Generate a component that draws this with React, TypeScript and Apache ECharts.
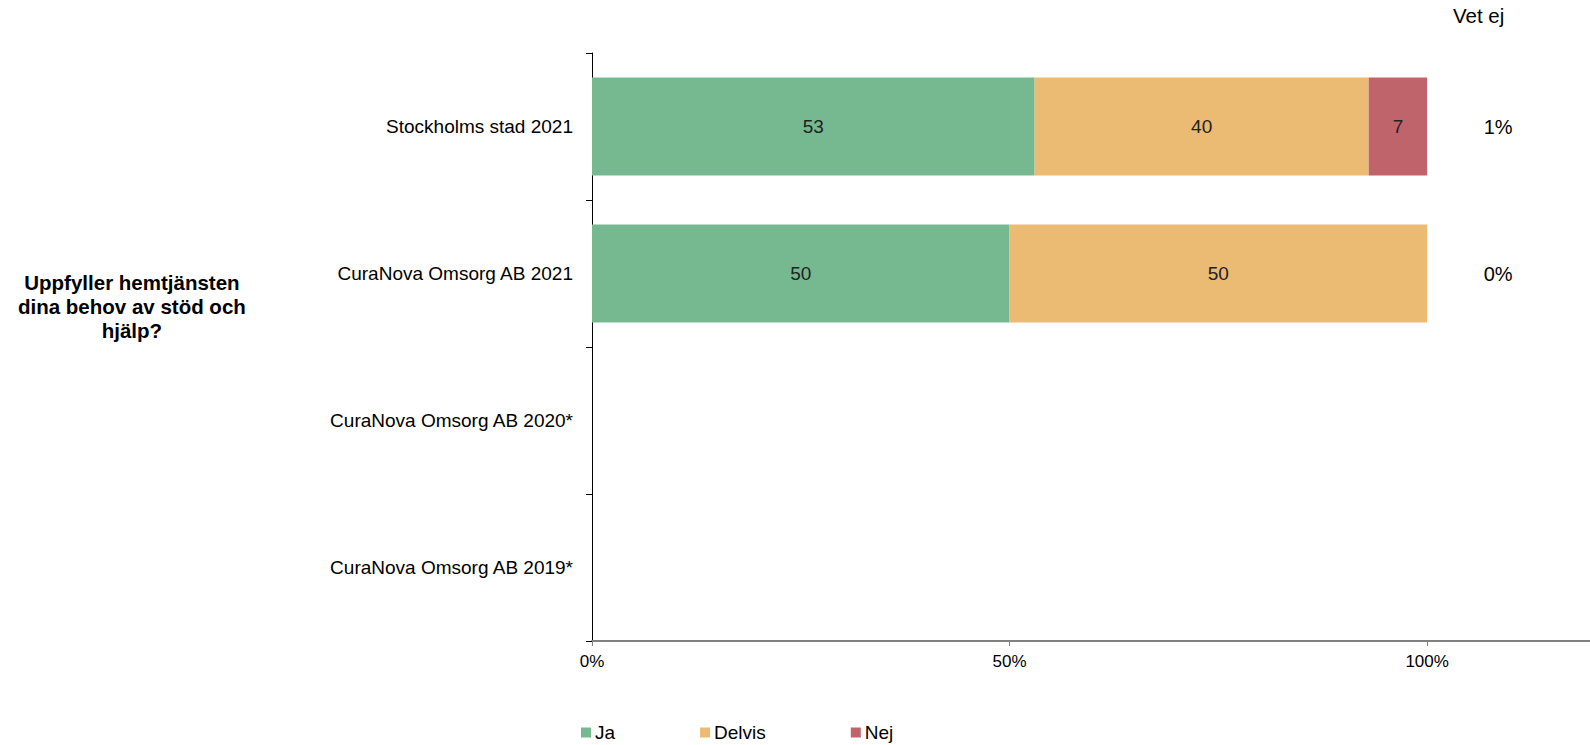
import React, { useEffect, useRef } from "react";
import * as echarts from "echarts";

const categories = [
  "Stockholms stad 2021",
  "CuraNova Omsorg AB 2021",
  "CuraNova Omsorg AB 2020*",
  "CuraNova Omsorg AB 2019*",
];
const ja = [53, 50, null, null];
const delvis = [40, 50, null, null];
const nej = [7, 0, null, null];
const vetEj = [1, 0, null, null];
const xTicks = [0, 50, 100];

const questionTitle = "Uppfyller hemtjänsten\ndina behov av stöd och\nhjälp?";
const vetEjHeader = "Vet ej";

const FONT = "'Liberation Sans', Arial, sans-serif";
const VET_EJ_X = 108.5;

export default function App() {
  const ref = useRef<HTMLDivElement>(null);

  useEffect(() => {
    if (!ref.current) return;
    const chart = echarts.init(ref.current, undefined, { renderer: "svg" });

    const barLabel = {
      show: true,
      position: "inside",
      color: "#222",
      fontSize: 19,
      fontFamily: FONT,
      formatter: (p: any) => (p.value ? String(p.value) : ""),
    };

    chart.setOption({
      animation: false,
      textStyle: { fontFamily: FONT },
      grid: { left: 592, right: 0, top: 53, bottom: 104, containLabel: false },
      legend: {
        data: ["Ja", "Delvis", "Nej"],
        left: 581,
        top: 723,
        padding: 0,
        itemWidth: 10,
        itemHeight: 10,
        itemGap: 85,
        icon: "rect",
        textStyle: { fontSize: 19, color: "#000", fontFamily: FONT, padding: [0, 0, 0, -1] },
      },
      xAxis: {
        type: "value",
        min: 0,
        max: 119.5,
        interval: 50,
        splitLine: { show: false },
        axisLine: { show: true, lineStyle: { color: "#808080", width: 2 } },
        axisTick: { show: true, length: 5, lineStyle: { color: "#808080" } },
        axisLabel: {
          fontSize: 17,
          color: "#000",
          fontFamily: FONT,
          margin: 12,
          showMaxLabel: false,
          formatter: (v: number) => (xTicks.includes(v) ? v + "%" : ""),
        },
      },
      yAxis: {
        type: "category",
        data: categories,
        inverse: true,
        axisLine: { show: true, lineStyle: { color: "#000", width: 1 } },
        axisTick: { show: true, length: 6, lineStyle: { color: "#000" } },
        axisLabel: { fontSize: 19, color: "#000", fontFamily: FONT, margin: 19 },
      },
      series: [
        {
          name: "Ja",
          type: "bar",
          stack: "total",
          barWidth: "66.7%",
          data: ja,
          itemStyle: { color: "#76B991" },
          label: barLabel,
        },
        {
          name: "Delvis",
          type: "bar",
          stack: "total",
          data: delvis,
          itemStyle: { color: "#ECBB73" },
          label: barLabel,
        },
        {
          name: "Nej",
          type: "bar",
          stack: "total",
          data: nej,
          itemStyle: { color: "#C0646C" },
          label: barLabel,
        },
        {
          name: "Vet ej",
          type: "scatter",
          symbolSize: 0,
          itemStyle: { opacity: 1 },
          data: vetEj.map((v, i) => [VET_EJ_X, i, v]),
          label: {
            show: true,
            position: "inside",
            fontSize: 20,
            color: "#000",
            fontFamily: FONT,
            formatter: (p: any) => (p.value[2] == null ? "" : p.value[2] + "%"),
          },
          silent: true,
        },
      ],
      graphic: [
        {
          type: "text",
          left: 18,
          top: 270,
          style: {
            text: questionTitle,
            x: 0,
            y: 0,
            fontSize: 20.5,
            fontWeight: "bold",
            fontFamily: FONT,
            fill: "#000",
            textAlign: "center",
            lineHeight: 24,
            width: 219,
          },
        },
        {
          type: "text",
          left: 1453,
          top: 5,
          style: {
            text: vetEjHeader,
            fontSize: 20.5,
            fontFamily: FONT,
            fill: "#000",
          },
        },
      ],
    });

    return () => chart.dispose();
  }, []);

  return (
    <div
      ref={ref}
      style={{ position: "fixed", left: 0, top: 0, width: 1590, height: 745, background: "#fff" }}
    />
  );
}
